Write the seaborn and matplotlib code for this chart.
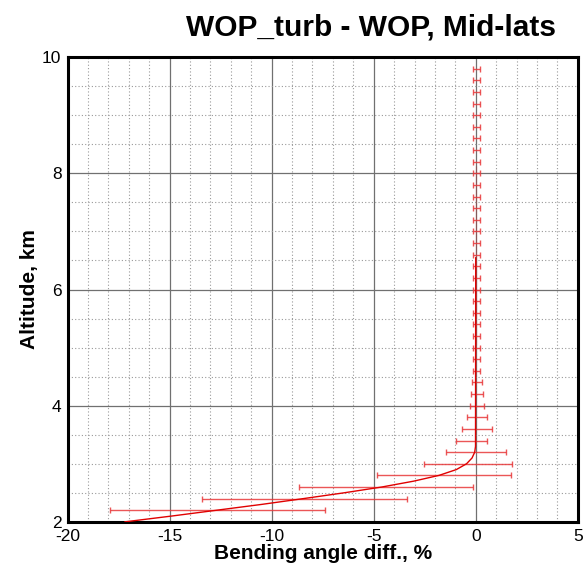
import numpy as np
import pandas as pd
import matplotlib
matplotlib.use("Agg")
import matplotlib.pyplot as plt
import seaborn as sns
from matplotlib.ticker import MultipleLocator

sns.set_style("white")
plt.rcParams['font.family'] = ['Liberation Sans', 'DejaVu Sans']
plt.rcParams['axes.unicode_minus'] = False
plt.rcParams['text.color'] = 'black'
plt.rcParams['axes.labelcolor'] = 'black'

# Mean profile (line)
profile_alt = [2.0, 2.1, 2.2, 2.3, 2.4, 2.5, 2.6, 2.7, 2.8, 2.9, 3.0, 3.1, 3.2, 3.3, 3.4, 4.0, 5.0, 6.0, 7.0, 8.0, 9.0, 10.0]
profile_diff = [-17.2, -14.9, -12.7, -10.5, -8.45, -6.45, -4.6, -3.05, -1.8, -0.95, -0.45, -0.18, -0.05, -0.01, 0.0, 0.0, 0.0, 0.0, 0.0, 0.0, 0.0, 0.0]

# Error bars
bar_alt = [2.2, 2.4, 2.6, 2.8, 3.0, 3.2, 3.4, 3.6, 3.8, 4.0, 4.2, 4.4, 4.6, 4.8,
           5.0, 5.2, 5.4, 5.6, 5.8, 6.0, 6.2, 6.4, 6.6, 6.8, 7.0, 7.2, 7.4, 7.6,
           7.8, 8.0, 8.2, 8.4, 8.6, 8.8, 9.0, 9.2, 9.4, 9.6, 9.8]
bar_mean = [-12.67, -8.40, -4.40, -1.57, -0.38, 0.01, -0.22, 0.07, 0.06, 0.06, 0.06, 0.06, 0.05, 0.03,
            0.04, 0.04, 0.03, 0.04, 0.03, 0.04, 0.05, 0.03, 0.04, 0.03, 0.03, 0.04, 0.03, 0.04,
            0.03, 0.04, 0.03, 0.04, 0.04, 0.03, 0.04, 0.03, 0.04, 0.03, 0.04]
bar_err = [5.26, 5.02, 4.28, 3.28, 2.15, 1.47, 0.75, 0.73, 0.50, 0.36, 0.28, 0.23, 0.18, 0.16,
           0.16, 0.17, 0.16, 0.17, 0.16, 0.17, 0.16, 0.17, 0.16, 0.17, 0.16, 0.16, 0.17, 0.16,
           0.17, 0.16, 0.16, 0.17, 0.16, 0.16, 0.17, 0.16, 0.16, 0.17, 0.16]

x_ticks = [-20, -15, -10, -5, 0, 5]
y_ticks = [2, 4, 6, 8, 10]

fig = plt.figure(figsize=(5.83, 5.66), dpi=100)
ax = fig.add_axes([0.116, 0.078, 0.875, 0.821])

ax.errorbar(bar_mean, bar_alt, xerr=bar_err, fmt='none', ecolor='#e8383a',
            elinewidth=1.0, capsize=2.5, capthick=1.0, alpha=0.85, zorder=3)
df = pd.DataFrame({'diff': profile_diff, 'alt': profile_alt})
sns.lineplot(data=df, x='diff', y='alt', sort=False, color='#e00000', linewidth=1.0, ax=ax, zorder=4)

ax.set_xlim(-20, 5)
ax.set_ylim(2, 10)
ax.set_xticks(x_ticks)
ax.set_yticks(y_ticks)
ax.xaxis.set_minor_locator(MultipleLocator(1))
ax.yaxis.set_minor_locator(MultipleLocator(0.5))
ax.grid(which='major', color='#707070', linestyle='-', linewidth=0.9, zorder=0)
ax.grid(which='minor', color='#999999', linestyle=(0, (1, 2)), linewidth=0.8, zorder=0)
ax.set_axisbelow(True)

ax.tick_params(which='major', direction='in', length=7.5, width=2.2, labelsize=12.5, colors='black')
ax.tick_params(axis='x', which='major', pad=5.5)
ax.tick_params(axis='y', which='major', pad=4.5)
ax.tick_params(which='minor', direction='in', length=4, width=1, colors='#444444')
for s in ax.spines.values():
    s.set_linewidth(2.2)
    s.set_color('black')

ax.set_xlabel('Bending angle diff., %', fontsize=15, fontweight='bold', labelpad=0)
ax.set_ylabel('Altitude, km', fontsize=15, fontweight='bold', labelpad=2)
fig.text(0.636, 0.951, 'WOP_turb - WOP, Mid-lats', fontsize=21.5, fontweight='bold', ha='center', va='center')

fig.savefig('out.png', dpi=100)
